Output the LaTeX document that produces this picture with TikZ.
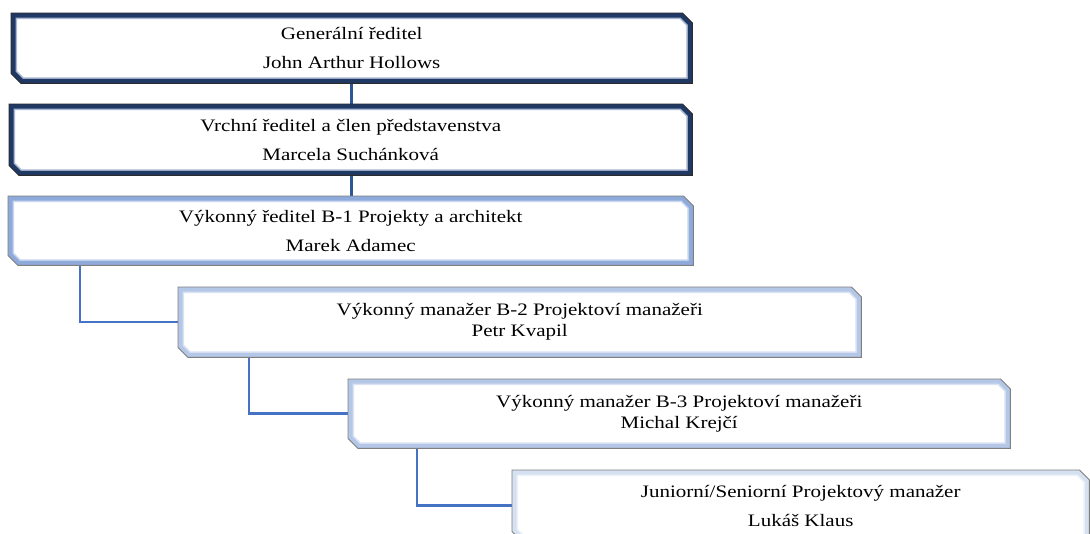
\documentclass[tikz,border=0pt]{standalone}
\usepackage{fontspec}
\setmainfont{Liberation Serif}[FakeStretch=1.2]
\usetikzlibrary{calc,backgrounds}

\definecolor{navyband}{HTML}{1F3864}
\definecolor{navyinner}{HTML}{A9B8D2}
\definecolor{midband}{HTML}{8EAADB}
\definecolor{midinner}{HTML}{C9D7EF}
\definecolor{paleband}{HTML}{B4C7E7}
\definecolor{paleinner}{HTML}{DAE3F3}
\definecolor{faintband}{HTML}{D5E0F0}
\definecolor{faintinner}{HTML}{EEF3FA}
\definecolor{rimdark}{HTML}{2B2B2B}
\definecolor{rimgray}{HTML}{7F7F7F}
\definecolor{linkblue}{HTML}{4472C4}
\definecolor{linknavy}{HTML}{2F5597}

\tikzset{
  orgbox/.style={anchor=north west, inner sep=0pt, align=center,
    minimum height=70pt, font=\fontsize{17.5}{29}\selectfont},
  tightbox/.style={font=\fontsize{17.5}{21}\selectfont},
  link/.style={draw=linkblue, line width=2.5pt},
  toplink/.style={draw=linknavy, line width=2.5pt},
}

% octagon outline with cut top-right and bottom-left corners
\newcommand\octpath[1]{(#1.north west) -- ($(#1.north east)+(-10,0)$)
  -- ($(#1.north east)+(0,10)$) -- (#1.south east)
  -- ($(#1.south west)+(10,0)$) -- ($(#1.south west)+(0,-10)$) -- cycle}

% frame: white fill, coloured band inside the outline, thin rim
\newcommand\orgframe[4]{%
  \fill[white] \octpath{#1};
  \begin{scope}
    \clip \octpath{#1};
    \draw[#3, line width=12pt] \octpath{#1};
    \draw[#2, line width=9pt] \octpath{#1};
  \end{scope}
  \draw[#4, line width=0.9pt] \octpath{#1};
}

\begin{document}
\begin{tikzpicture}[x=1pt,y=-1pt]
\useasboundingbox (0,0) rectangle (1090,533);

\node[orgbox, minimum width=681pt] (gen) at (11,13)
  {Generální ředitel\\John Arthur Hollows};
\node[orgbox, minimum width=683pt, minimum height=71pt] (vrch) at (9,104)
  {Vrchní ředitel a člen představenstva\\Marcela Suchánková};
\node[orgbox, minimum width=685pt, minimum height=69pt] (vyk) at (8,196)
  {Výkonný ředitel B-1 Projekty a architekt\\Marek Adamec};
\node[orgbox, tightbox, minimum width=683pt] (man2) at (178,287)
  {Výkonný manažer B-2 Projektoví manažeři\\Petr Kvapil};
\node[orgbox, tightbox, minimum width=662pt, minimum height=69pt] (man3) at (348,379)
  {Výkonný manažer B-3 Projektoví manažeři\\Michal Krejčí};
\node[orgbox, minimum width=577pt, minimum height=71pt] (jun) at (512,470)
  {Juniorní/Seniorní Projektový manažer\\Lukáš Klaus};

\begin{pgfonlayer}{background}
  % connectors
  \draw[toplink] (gen.south) -- (gen.south |- vrch.north);
  \draw[toplink] (gen.south |- vrch.south) -- (gen.south |- vyk.north);
  \draw[link] ($(vyk.south west)+(72,0)$) |- (man2.west);
  \draw[link] ($(man2.south west)+(71,0)$) |- (man3.west);
  \draw[link] ($(man3.south west)+(69,0)$) |- (jun.west);
  % frames
  \orgframe{gen}{navyband}{navyinner}{rimdark}
  \orgframe{vrch}{navyband}{navyinner}{rimdark}
  \orgframe{vyk}{midband}{midinner}{rimgray}
  \orgframe{man2}{paleband}{paleinner}{rimgray}
  \orgframe{man3}{paleband}{paleinner}{rimgray}
  \orgframe{jun}{faintband}{faintinner}{rimgray}
\end{pgfonlayer}
\end{tikzpicture}
\end{document}
